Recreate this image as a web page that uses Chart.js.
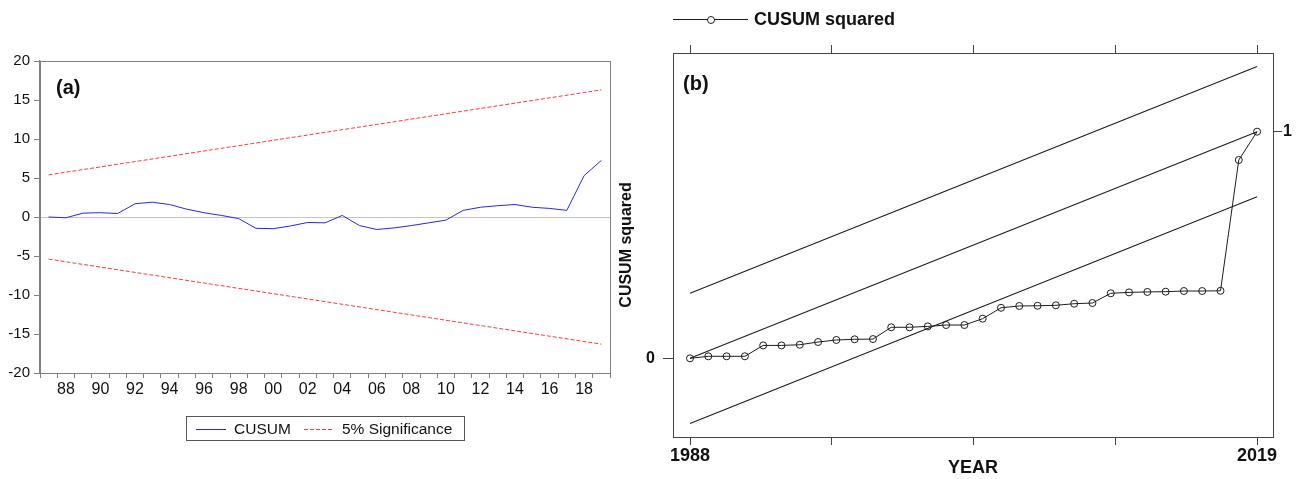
<!DOCTYPE html>
<html>
<head>
<meta charset="utf-8">
<script src="https://cdn.jsdelivr.net/npm/chart.js@4.4.1/dist/chart.umd.min.js"></script>
<style>
  html, body { margin: 0; padding: 0; background: #fff; }
  body { width: 1301px; height: 479px; position: relative; overflow: hidden;
         font-family: "Liberation Sans", Arial, sans-serif; color: #111; }
  canvas { position: absolute; top: 0; }
  #chartA { left: 0; }
  #chartB { left: 600px; }
  .panel-tag { position: absolute; font-weight: bold; font-size: 20px; line-height: 20px; }
  #legendA { position: absolute; left: 186px; top: 416px; width: 277px; height: 23px;
             border: 1px solid #555; box-sizing: content-box; }
  #legendA span { position: absolute; top: 3px; font-size: 15.5px; line-height: 18px; }
  .swatch { position: absolute; top: 12px; width: 30px; height: 1px; }
  #legendB { position: absolute; left: 673px; top: 8px; width: 240px; height: 22px; }
  #legendB span { position: absolute; left: 81px; top: 0; font-weight: bold; font-size: 18px; line-height: 22px; }
  #legendB .line { position: absolute; left: 0; top: 11px; width: 75px; height: 1px; }
  #legendB .dot { position: absolute; left: 34px; top: 8px; width: 6px; height: 6px; border-radius: 50%;
                  box-sizing: content-box; background: #fff; }
</style>
</head>
<body>
<canvas id="chartA" width="615" height="479"></canvas>
<canvas id="chartB" width="701" height="479"></canvas>
<div class="panel-tag" style="left:56px; top:77px;">(a)</div>
<div class="panel-tag" style="left:683px; top:73px;">(b)</div>
<div id="legendA"></div>
<div id="legendB"></div>
<script>
// ---- panel (a): CUSUM ----
const YEARS_A = ['1987', '1988', '1989', '1990', '1991', '1992', '1993', '1994', '1995', '1996', '1997',
  '1998', '1999', '2000', '2001', '2002', '2003', '2004', '2005', '2006', '2007', '2008', '2009',
  '2010', '2011', '2012', '2013', '2014', '2015', '2016', '2017', '2018', '2019'];
const CUSUM = [0, -0.1, 0.5, 0.55, 0.45, 1.7, 1.9, 1.6, 1.0, 0.55, 0.2, -0.2, -1.45, -1.5, -1.15,
  -0.7, -0.75, 0.2, -1.1, -1.6, -1.4, -1.1, -0.75, -0.4, 0.85, 1.25, 1.45, 1.6, 1.25, 1.1, 0.85, 5.3, 7.25];
// significance bands are straight lines, so only their end points are kept
const SIG_YEARS = ['1987', '2019'];
const SIG_UPPER = [5.4, 16.3];
const SIG_LOWER = [-5.4, -16.3];
const Y_MIN_A = -20;
const Y_MAX_A = 20;
const Y_STEP_A = 5;

// ---- panel (b): CUSUM of squares ----
const YEARS_B = [1988, 1989, 1990, 1991, 1992, 1993, 1994, 1995, 1996, 1997, 1998, 1999, 2000, 2001,
  2002, 2003, 2004, 2005, 2006, 2007, 2008, 2009, 2010, 2011, 2012, 2013, 2014, 2015, 2016, 2017, 2018, 2019];
const CUSUMSQ = [0, 0.009, 0.009, 0.009, 0.057, 0.057, 0.06, 0.072, 0.081, 0.084, 0.085, 0.137, 0.137,
  0.141, 0.147, 0.147, 0.175, 0.223, 0.231, 0.232, 0.234, 0.241, 0.244, 0.287, 0.291, 0.293, 0.294,
  0.297, 0.297, 0.298, 0.875, 1.0];
const BAND_YEARS = [1988, 2019];
const EXPECTED = [0, 1];
const BAND_UPPER = [0.287, 1.287];
const BAND_LOWER = [-0.287, 0.713];
const YEAR_TICKS_B = [1988, 1995.75, 2003.5, 2011.25, 2019];
const YEAR_TICK_LABELS_B = ['1988', '', '', '', '2019'];
const X_MIN_B = 1987.07;
const X_MAX_B = 2019.87;
const Y_MIN_B = -0.347;
const Y_MAX_B = 1.347;

const BLUE = '#2424ff';
const RED = '#ff3a3a';
const INK = '#1c1c1c';

Chart.defaults.font.family = '"Liberation Sans", Arial, sans-serif';
Chart.defaults.color = '#111';

// box round the plot area
const framePlugin = {
  id: 'frame',
  afterDraw(chart, args, opts) {
    const { ctx, chartArea: a } = chart;
    ctx.save();
    ctx.strokeStyle = opts.color;
    ctx.lineWidth = 1;
    ctx.strokeRect(a.left + 0.5, a.top + 0.5, a.right - a.left, a.bottom - a.top);
    ctx.restore();
  },
};

const fixWidth = (w) => (scale) => { scale.width = w; };
const fixHeight = (h) => (scale) => { scale.height = h; };
const pairs = (xs, ys) => xs.map((x, i) => ({ x, y: ys[i] }));

new Chart(document.getElementById('chartA'), {
  type: 'line',
  data: {
    labels: YEARS_A,
    datasets: [
      { label: 'CUSUM', data: CUSUM, borderColor: BLUE, borderWidth: 1, pointRadius: 0, tension: 0 },
      { label: '5% Significance', data: pairs(SIG_YEARS, SIG_UPPER), borderColor: RED, borderWidth: 1,
        borderDash: [4, 2], pointRadius: 0 },
      { label: '5% Significance (lower)', data: pairs(SIG_YEARS, SIG_LOWER), borderColor: RED, borderWidth: 1,
        borderDash: [4, 2], pointRadius: 0 },
    ],
  },
  options: {
    responsive: false,
    animation: false,
    layout: { padding: { left: 0, top: 61, right: 5, bottom: 76 } },
    plugins: { legend: { display: false }, tooltip: { enabled: false }, frame: { color: '#808080' } },
    scales: {
      x: {
        type: 'category',
        offset: true,
        afterFit: fixHeight(30),
        border: { display: false },
        grid: { offset: true, drawOnChartArea: false, tickLength: 5, color: '#808080' },
        ticks: {
          autoSkip: false, maxRotation: 0, padding: 2, font: { size: 16 },
          callback(value, index) {
            const y = Number(YEARS_A[index]);
            return y % 2 === 0 ? YEARS_A[index].slice(2) : '';
          },
        },
      },
      y: {
        min: Y_MIN_A,
        max: Y_MAX_A,
        afterFit: fixWidth(40),
        border: { display: true, color: '#808080', width: 1.5 },
        grid: {
          tickLength: 6,
          tickColor: '#808080',
          color: (ctx) => (ctx.tick && ctx.tick.value === 0 ? '#c4c4c4' : 'rgba(0,0,0,0)'),
        },
        ticks: { stepSize: Y_STEP_A, padding: 4, font: { size: 15 } },
      },
    },
  },
  plugins: [framePlugin],
});

new Chart(document.getElementById('chartB'), {
  type: 'line',
  data: {
    datasets: [
      { label: 'CUSUM squared', data: pairs(YEARS_B, CUSUMSQ), borderColor: INK, borderWidth: 1,
        pointRadius: 3.5, pointBorderColor: INK, pointBorderWidth: 1, pointBackgroundColor: 'rgba(0,0,0,0)' },
      { label: 'upper', data: pairs(BAND_YEARS, BAND_UPPER), borderColor: INK, borderWidth: 1.1, pointRadius: 0 },
      { label: 'expected', data: pairs(BAND_YEARS, EXPECTED), borderColor: INK, borderWidth: 1.1, pointRadius: 0 },
      { label: 'lower', data: pairs(BAND_YEARS, BAND_LOWER), borderColor: INK, borderWidth: 1.1, pointRadius: 0 },
    ],
  },
  options: {
    responsive: false,
    animation: false,
    layout: { padding: { left: 0, top: 45, right: 0, bottom: 0 } },
    plugins: { legend: { display: false }, tooltip: { enabled: false }, frame: { color: '#444' } },
    scales: {
      x: {
        type: 'linear',
        position: 'bottom',
        min: X_MIN_B,
        max: X_MAX_B,
        afterFit: fixHeight(42),
        afterBuildTicks: (s) => { s.ticks = YEAR_TICKS_B.map((v) => ({ value: v })); },
        border: { display: false },
        grid: { drawOnChartArea: false, tickLength: 8, color: '#444' },
        ticks: {
          autoSkip: false, maxRotation: 0, padding: 0,
          font: { size: 18, weight: 'bold' },
          callback: (v, i) => YEAR_TICK_LABELS_B[i],
        },
        title: { display: true, text: 'YEAR', font: { size: 18, weight: 'bold' }, padding: { top: 0, bottom: 0 } },
      },
      xTop: {
        type: 'linear',
        position: 'top',
        min: X_MIN_B,
        max: X_MAX_B,
        afterFit: fixHeight(8),
        afterBuildTicks: (s) => { s.ticks = YEAR_TICKS_B.map((v) => ({ value: v })); },
        border: { display: false },
        grid: { drawOnChartArea: false, tickLength: 8, color: '#444' },
        ticks: { display: false },
      },
      y: {
        type: 'linear',
        position: 'left',
        min: Y_MIN_B,
        max: Y_MAX_B,
        afterFit: fixWidth(73),
        afterBuildTicks: (s) => { s.ticks = [{ value: 0 }]; },
        border: { display: false },
        grid: { drawOnChartArea: false, tickLength: 10, color: '#444' },
        ticks: { padding: 8, font: { size: 16, weight: 'bold' }, callback: (v) => String(v) },
        title: { display: true, text: 'CUSUM squared', font: { size: 16, weight: 'bold' }, padding: { top: 17, bottom: 0 } },
      },
      yRight: {
        type: 'linear',
        position: 'right',
        min: Y_MIN_B,
        max: Y_MAX_B,
        afterFit: fixWidth(28),
        afterBuildTicks: (s) => { s.ticks = [{ value: 1 }]; },
        border: { display: false },
        grid: { drawOnChartArea: false, tickLength: 9, color: '#444' },
        ticks: { padding: 1, font: { size: 16, weight: 'bold' }, callback: (v) => String(v) },
      },
    },
  },
  plugins: [framePlugin],
});

// legends as html, same colours as the datasets
document.getElementById('legendA').innerHTML = `
  <div class="swatch" style="left:9px; background:${BLUE};"></div>
  <div class="swatch" style="left:117px; background:repeating-linear-gradient(90deg, ${RED} 0 4px, transparent 4px 6px);"></div>
  <span style="left:47px;">CUSUM</span>
  <span style="left:155px;">5% Significance</span>`;

document.getElementById('legendB').innerHTML = `
  <div class="line" style="background:${INK};"></div>
  <div class="dot" style="border:1px solid ${INK};"></div>
  <span>CUSUM squared</span>`;
</script>
</body>
</html>
